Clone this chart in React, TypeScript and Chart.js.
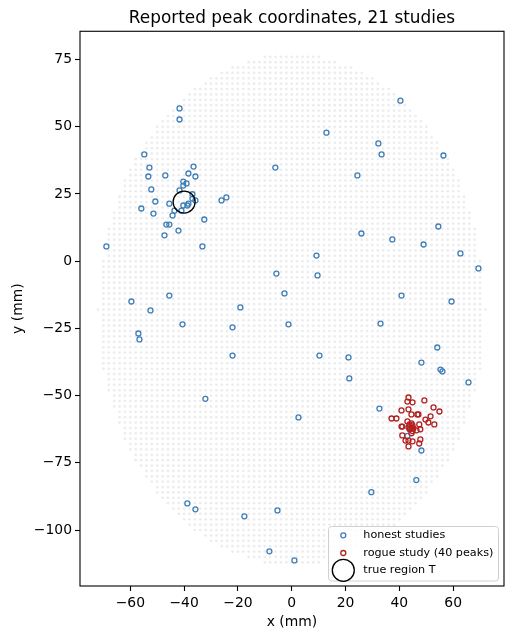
import React, { useRef, useEffect } from 'react';
import Chart from 'chart.js/auto';

const honestX = [-41.7, -41.7, -54.8, -52.9, -53.3, -47.0, -36.5, -38.4, -35.8, -40.3, -39.1, -40.3, -52.2, -41.7, -36.9, -36.9, -35.8, -50.7, -45.5, -38.4, -38.8, -40.3, -41.0, -43.6, -55.9, -51.4, -44.3, -32.5, -26.1, -24.3, -6.1,
    -46.6, -45.5, -42.1, -47.3, -68.9, -33.2, -5.7, -2.7, -45.5, -59.6, -52.5, -19.1, -40.6, -22.0, -1.2, -57.0, -56.6, -22.0, -32.1,
    54.5, 25.9, 37.4, 49.0, 62.7, 9.2, 69.4, 9.6, 40.8, 59.4, 33.0, 54.1, 10.3, 21.1, 48.2, 55.3, 56.0, 65.7, 21.4,
    40.4, 12.9, 32.2, 33.4, 56.4, 24.4,
    -38.8, -35.8, -17.6, -5.3, -8.3, 1.0, 2.5, 32.6, 48.2, 46.3, 29.6, 43.0];
const honestY = [56.8, 52.7, 39.7, 34.8, 31.5, 31.9, 35.2, 32.6, 31.5, 29.6, 28.9, 28.1, 26.7, 26.3, 24.9, 23.3, 22.6, 22.2, 21.4, 21.4, 20.7, 20.7, 18.8, 18.8, 19.6, 17.7, 17.0, 15.5, 22.6, 23.7, 34.8,
    13.6, 13.6, 11.4, 9.6, 5.5, 5.5, -4.6, -12.0, -12.8, -15.0, -18.3, -17.2, -23.5, -24.6, -23.5, -26.9, -29.1, -35.1, -51.2,
    12.9, 10.3, 8.1, 6.2, 2.9, 2.1, -2.7, -5.3, -12.8, -15.0, -23.2, -32.1, -35.1, -35.8, -37.7, -40.3, -41.0, -45.1, -43.6,
    59.7, 47.8, 43.8, 39.7, 39.3, 31.9,
    -90.1, -92.3, -94.9, -92.7, -107.9, -111.3, -58.1, -54.8, -70.4, -81.4, -85.9, -65.0];

const rogueX = [43.4, 43.0, 44.9, 49.3, 52.7, 54.9, 40.8, 43.4, 44.5, 46.7, 47.1, 51.6, 37.1, 38.9, 49.7, 50.8, 53.0, 43.0, 47.4, 40.8, 41.1, 43.4, 44.9, 44.5, 43.8, 45.2, 46.4, 47.8, 44.9, 43.8, 44.5, 41.1, 42.3, 43.4, 44.9, 47.8, 47.4, 43.4, 44.5, 44.1];
const rogueY = [-50.7, -52.2, -52.5, -51.8, -54.4, -55.9, -55.5, -55.1, -57.0, -57.0, -57.0, -57.7, -58.5, -58.5, -58.9, -60.0, -60.7, -59.6, -60.7, -61.5, -61.5, -61.8, -61.1, -61.8, -60.7, -62.2, -62.9, -62.5, -63.2, -62.5, -64.0, -64.8, -66.7, -66.7, -67.0, -66.3, -67.8, -68.9, -60.3, -62.2];

const regionX = [-40];
const regionY = [22];

// mask rows run from y = 76 down to y = -112, 2 mm apart
const maskTop = 76;
const maskStep = 2;
const maskHalfWidth = [10, 16, 22, 26, 30, 32, 36, 38, 40, 42, 44, 46, 48, 50, 50, 52, 54, 54, 56, 58, 58, 60, 60, 62, 62, 62, 64, 64, 64, 66, 66, 66, 68, 68, 68, 68, 68, 68,
    70, 70, 70, 70, 70, 70, 70, 70, 70, 72, 70, 70, 70, 70, 70, 70, 70, 70, 70, 70, 70,
    68, 68, 68, 68, 66, 66, 66, 64, 64, 64, 62, 62, 62, 60, 60, 58, 58, 56, 54, 54, 52, 50, 50, 48, 46, 44, 42, 40, 38, 36, 32, 30, 26, 22, 16, 10];

const xTicks = [-60, -40, -20, 0, 20, 40, 60];
const yTicks = [-100, -75, -50, -25, 0, 25, 50, 75];

const legendLabels = ['honest studies', 'rogue study (40 peaks)', 'true region T'];

const honestColor = '#3f7fb8';
const rogueColor = '#b22222';
const FONT = '"DejaVu Sans"';

const maskPoints: { x: number; y: number }[] = [];
maskHalfWidth.forEach((w, row) => {
    for (let x = -w; x <= w; x += maskStep) {
        maskPoints.push({ x, y: maskTop - row * maskStep });
    }
});

const zip = (xs: number[], ys: number[]) => xs.map((x, i) => ({ x, y: ys[i] }));
const minus = (v: number | string) => String(v).replace('-', '\u2212');

// top and right spines plus the legend box in the lower right corner
const framePlugin = {
    id: 'frame',
    afterDraw(chart: Chart) {
        const { ctx, chartArea } = chart;
        ctx.save();
        ctx.strokeStyle = '#000';
        ctx.lineWidth = 1.1;
        ctx.strokeRect(chartArea.left, chartArea.top, chartArea.right - chartArea.left, chartArea.bottom - chartArea.top);

        ctx.fillStyle = 'rgba(255,255,255,0.8)';
        ctx.strokeStyle = '#d0d0d0';
        ctx.lineWidth = 1;
        ctx.beginPath();
        ctx.roundRect(328.5, 526.5, 170, 54.5, 3);
        ctx.fill();
        ctx.stroke();

        const rows = [535.3, 553, 570.3];
        ctx.lineWidth = 1.3;
        ctx.strokeStyle = honestColor;
        ctx.beginPath();
        ctx.arc(343.3, rows[0], 2.5, 0, Math.PI * 2);
        ctx.stroke();
        ctx.strokeStyle = rogueColor;
        ctx.beginPath();
        ctx.arc(343.3, rows[1], 2.5, 0, Math.PI * 2);
        ctx.stroke();
        ctx.strokeStyle = '#000';
        ctx.beginPath();
        ctx.arc(343.3, rows[2], 11, 0, Math.PI * 2);
        ctx.stroke();

        ctx.fillStyle = '#000';
        ctx.font = `11.2px ${FONT}`;
        ctx.textBaseline = 'middle';
        legendLabels.forEach((label, i) => ctx.fillText(label, 363.3, rows[i]));
        ctx.restore();
    },
};

const App: React.FC = () => {
    const chartRef = useRef<HTMLCanvasElement>(null);

    useEffect(() => {
        if (!chartRef.current) return;
        const chart = new Chart(chartRef.current, {
            type: 'scatter',
            data: {
                datasets: [
                    {
                        label: 'true region T',
                        data: zip(regionX, regionY),
                        pointRadius: 11,
                        pointBackgroundColor: 'rgba(0,0,0,0)',
                        pointBorderColor: '#000',
                        pointBorderWidth: 1.3,
                    },
                    {
                        label: 'rogue study (40 peaks)',
                        data: zip(rogueX, rogueY),
                        pointRadius: 2.5,
                        pointBackgroundColor: 'rgba(0,0,0,0)',
                        pointBorderColor: rogueColor,
                        pointBorderWidth: 1.3,
                    },
                    {
                        label: 'honest studies',
                        data: zip(honestX, honestY),
                        pointRadius: 2.5,
                        pointBackgroundColor: 'rgba(0,0,0,0)',
                        pointBorderColor: honestColor,
                        pointBorderWidth: 1.3,
                    },
                    {
                        label: 'mask',
                        data: maskPoints,
                        pointRadius: 1.35,
                        pointBackgroundColor: '#ececec',
                        pointBorderWidth: 0,
                    },
                ],
            },
            options: {
                animation: false,
                responsive: false,
                devicePixelRatio: 1,
                layout: { autoPadding: false, padding: { right: 9 } },
                plugins: {
                    legend: { display: false },
                    tooltip: { enabled: false },
                    title: {
                        display: true,
                        fullSize: false,
                        text: 'Reported peak coordinates, 21 studies',
                        color: '#000',
                        font: { family: FONT, size: 16.9, weight: 'normal' },
                        padding: { top: 8, bottom: 3 },
                    },
                },
                scales: {
                    x: {
                        type: 'linear',
                        min: -78.7,
                        max: 78.9,
                        afterFit: (scale: any) => {
                            scale.height = 54;
                            scale.paddingLeft = 0;
                            scale.paddingRight = 0;
                        },
                        afterBuildTicks: (scale: any) => { scale.ticks = xTicks.map((value) => ({ value })); },
                        title: {
                            display: true,
                            text: 'x (mm)',
                            color: '#000',
                            font: { family: FONT, size: 13.9 },
                            padding: { top: 0, bottom: 9 },
                        },
                        grid: { drawOnChartArea: false, tickLength: 5, tickColor: '#000', tickWidth: 1.1 },
                        border: { display: false },
                        ticks: {
                            color: '#000',
                            font: { family: FONT, size: 13.9 },
                            padding: 4,
                            maxRotation: 0,
                            autoSkip: false,
                            callback: (v: number | string) => minus(v),
                        },
                    },
                    y: {
                        type: 'linear',
                        min: -120.8,
                        max: 85.5,
                        afterFit: (scale: any) => {
                            scale.width = 80;
                            scale.paddingTop = 0;
                            scale.paddingBottom = 0;
                        },
                        afterBuildTicks: (scale: any) => { scale.ticks = yTicks.map((value) => ({ value })); },
                        title: {
                            display: true,
                            text: 'y (mm)',
                            color: '#000',
                            font: { family: FONT, size: 13.9 },
                            padding: { top: 10, bottom: 0 },
                        },
                        grid: { drawOnChartArea: false, tickLength: 5, tickColor: '#000', tickWidth: 1.1 },
                        border: { display: false },
                        ticks: {
                            color: '#000',
                            font: { family: FONT, size: 13.9 },
                            padding: 3,
                            autoSkip: false,
                            callback: (v: number | string) => minus(v),
                        },
                    },
                },
            },
            plugins: [framePlugin],
        } as any);

        return () => {
            chart.destroy();
        };
    }, []);

    return (
        <div style={{ position: 'absolute', left: 0, top: 0, width: 513, height: 640 }}>
            <canvas ref={chartRef} width={513} height={640} />
        </div>
    );
};

export default App;
